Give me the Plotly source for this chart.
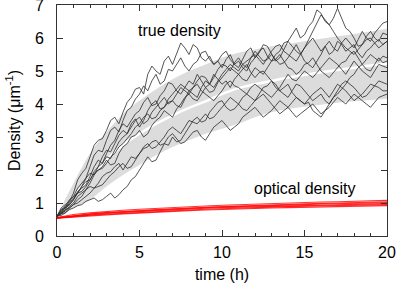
import plotly.graph_objects as go

# time axis (h)
t_band = [0, 1, 2, 3, 4, 5, 6, 7, 8, 9, 10, 11, 12, 13, 14, 15, 16, 17, 18, 19, 20]
band_mean = [0.6, 1.2, 1.75, 2.3, 2.76, 3.1, 3.4, 3.65, 3.88, 4.08, 4.3, 4.48, 4.6, 4.7, 4.8, 4.88, 4.96, 5.03, 5.1, 5.17, 5.22]
band_upper = [0.62, 1.6, 2.5, 3.15, 3.7, 4.1, 4.45, 4.75, 5.0, 5.2, 5.4, 5.55, 5.65, 5.75, 5.82, 5.9, 5.98, 6.05, 6.12, 6.2, 6.28]
band_lower = [0.58, 0.85, 1.1, 1.5, 1.85, 2.15, 2.45, 2.7, 2.9, 3.1, 3.25, 3.4, 3.6, 3.75, 3.85, 3.92, 3.98, 4.04, 4.08, 4.12, 4.16]

t_true = [i * 0.25 for i in range(81)]
true_1 = [0.6, 0.85, 0.95, 1.05, 1.3, 1.7, 1.9, 2.05, 2.4, 2.75,
          2.9, 2.95, 3.2, 3.5, 3.6, 3.4, 3.75, 4.05, 4.2, 4.45,
          4.5, 4.3, 4.9, 5.15, 5.0, 4.9, 5.3, 5.45, 5.2, 5.5,
          5.85, 5.7, 5.5, 5.8, 5.7, 5.4, 5.3, 5.45, 5.2, 5.3,
          5.5, 5.6, 5.35, 5.2, 5.1, 5.35, 5.6, 5.7, 5.4, 5.55,
          5.8, 5.75, 5.5, 5.3, 5.4, 5.65, 5.9, 5.75, 5.6, 5.5,
          5.7, 5.85, 6.0, 5.8, 5.6, 5.75, 5.5, 5.6, 5.9, 5.8,
          5.6, 5.7, 5.8, 5.55, 5.4, 5.6, 5.7, 5.85, 5.95, 5.8,
          5.9]
true_2 = [0.6, 0.7, 0.9, 1.1, 1.2, 1.45, 1.6, 1.75, 2.1, 2.45,
          2.6, 2.55, 2.9, 3.2, 3.3, 3.15, 3.5, 3.8, 3.9, 4.15,
          4.3, 4.55, 4.4, 4.7, 4.9, 4.6, 4.7, 5.05, 5.0, 5.2,
          5.4, 5.15, 5.0, 5.2, 5.3, 5.55, 5.6, 5.35, 5.2, 5.3,
          5.1, 5.35, 5.5, 5.2, 5.3, 5.1, 5.0, 5.25, 5.4, 5.6,
          5.7, 5.45, 5.3, 5.5, 5.6, 5.85, 5.9, 6.1, 6.3, 6.0,
          6.1, 6.35, 6.5, 6.85, 6.75, 6.5, 6.4, 6.6, 6.9, 6.6,
          6.3, 6.2, 6.0, 5.75, 5.8, 6.05, 6.2, 6.0, 5.9, 6.15,
          6.1]
true_3 = [0.6, 0.75, 0.85, 0.95, 1.1, 1.35, 1.45, 1.55, 1.8, 2.1,
          2.3, 2.2, 2.5, 2.75, 2.9, 3.2, 3.4, 3.3, 3.5, 3.7,
          3.8, 4.05, 4.2, 3.95, 4.0, 4.25, 4.4, 4.65, 4.6, 4.4,
          4.3, 4.5, 4.7, 4.6, 4.9, 4.7, 4.5, 4.6, 4.8, 5.05,
          5.2, 5.15, 5.0, 5.25, 5.4, 5.2, 5.1, 5.4, 5.6, 5.45,
          5.3, 5.35, 5.5, 5.35, 5.2, 5.25, 5.4, 5.6, 5.8, 5.55,
          5.3, 5.2, 5.1, 5.3, 5.5, 5.75, 5.9, 5.7, 5.6, 5.85,
          6.0, 5.85, 5.7, 5.95, 6.2, 6.0, 5.9, 6.15, 6.3, 6.45,
          6.5]
true_4 = [0.6, 0.65, 0.8, 1.0, 1.15, 1.3, 1.5, 1.75, 1.9, 1.85,
          2.1, 2.4, 2.6, 2.55, 2.8, 3.05, 3.2, 3.1, 3.4, 3.55,
          3.3, 3.5, 3.8, 4.0, 4.1, 3.85, 3.9, 4.15, 4.3, 4.45,
          4.6, 4.5, 4.4, 4.3, 4.2, 4.5, 4.7, 4.6, 4.9, 4.75,
          4.6, 4.7, 4.5, 4.75, 4.9, 5.05, 5.2, 4.95, 4.8, 4.95,
          5.0, 4.85, 4.7, 4.5, 4.4, 4.5, 4.6, 4.35, 4.2, 4.1,
          4.0, 4.05, 3.8, 3.7, 3.6, 3.8, 4.0, 4.2, 4.3, 4.45,
          4.6, 4.8, 4.9, 5.1, 5.2, 5.05, 5.0, 5.2, 5.4, 5.25,
          5.3]
true_5 = [0.6, 0.7, 0.75, 0.9, 1.0, 1.2, 1.3, 1.4, 1.6, 1.85,
          2.0, 2.1, 2.3, 2.15, 2.2, 2.5, 2.7, 2.8, 3.0, 3.05,
          3.2, 3.0, 3.1, 3.35, 3.5, 3.6, 3.8, 3.7, 3.6, 3.85,
          4.0, 4.2, 4.3, 4.15, 4.1, 4.3, 4.5, 4.35, 4.4, 4.65,
          4.8, 4.95, 5.1, 5.0, 4.9, 4.75, 4.7, 4.9, 5.1, 5.0,
          4.9, 5.1, 5.3, 5.35, 5.5, 5.3, 5.1, 5.05, 4.9, 5.0,
          5.2, 5.25, 5.4, 5.2, 5.0, 4.9, 4.8, 4.95, 5.1, 5.25,
          5.3, 5.5, 5.6, 5.4, 5.2, 5.35, 5.5, 5.4, 5.3, 5.45,
          5.4]
true_6 = [0.6, 0.68, 0.7, 0.8, 0.85, 0.92, 0.95, 1.05, 1.1, 1.15,
          1.05, 1.1, 1.2, 1.3, 1.15, 1.25, 1.4, 1.5, 1.7, 1.8,
          2.0, 2.2, 2.4, 2.25, 2.3, 2.55, 2.8, 2.75, 3.0, 2.85,
          2.9, 3.1, 3.3, 3.5, 3.6, 3.45, 3.5, 3.75, 3.9, 4.05,
          4.1, 3.9, 3.8, 3.85, 4.0, 4.2, 4.3, 4.2, 4.1, 4.3,
          4.5, 4.55, 4.7, 4.6, 4.4, 4.3, 4.2, 4.4, 4.6, 4.55,
          4.4, 4.25, 4.1, 4.2, 4.3, 4.1, 4.0, 4.2, 4.4, 4.6,
          4.7, 4.6, 4.5, 4.35, 4.2, 4.25, 4.4, 4.55, 4.7, 4.65,
          4.6]
true_7 = [0.6, 0.72, 0.8, 0.85, 0.95, 1.1, 1.2, 1.4, 1.5, 1.45,
          1.6, 1.8, 1.9, 1.95, 2.1, 2.2, 2.0, 2.2, 2.4, 2.35,
          2.5, 2.65, 2.7, 2.85, 2.9, 2.75, 2.8, 3.0, 3.1, 2.95,
          2.8, 2.85, 3.0, 3.15, 3.2, 3.0, 2.9, 3.1, 3.3, 3.4,
          3.5, 3.35, 3.2, 3.3, 3.4, 3.6, 3.7, 3.8, 3.9, 3.75,
          3.6, 3.7, 3.8, 3.95, 4.1, 4.0, 3.9, 4.05, 4.2, 4.1,
          4.0, 4.15, 4.3, 4.4, 4.5, 4.35, 4.2, 4.4, 4.6, 4.5,
          4.4, 4.25, 4.1, 4.2, 4.3, 4.45, 4.6, 4.55, 4.5, 4.4,
          4.4]
true_8 = [0.6, 0.8, 0.9, 0.95, 1.1, 1.3, 1.35, 1.5, 1.7, 1.95,
          2.1, 2.2, 2.4, 2.35, 2.6, 2.85, 3.0, 3.1, 3.3, 3.5,
          3.6, 3.4, 3.5, 3.75, 3.9, 4.05, 4.2, 4.0, 4.1, 3.95,
          3.9, 4.15, 4.4, 4.5, 4.6, 4.4, 4.3, 4.2, 4.1, 4.25,
          4.4, 4.6, 4.7, 4.55, 4.5, 4.4, 4.3, 4.5, 4.6, 4.5,
          4.4, 4.3, 4.2, 4.35, 4.5, 4.7, 4.9, 4.75, 4.7, 4.85,
          5.0, 4.9, 4.8, 4.95, 5.1, 5.25, 5.4, 5.3, 5.2, 5.05,
          4.9, 5.1, 5.3, 5.15, 5.0, 4.9, 4.8, 5.0, 5.2, 5.15,
          5.1]
true_9 = [0.6, 0.78, 0.85, 1.05, 1.2, 1.3, 1.5, 1.65, 1.7, 1.9,
          2.0, 2.05, 2.2, 2.4, 2.5, 2.7, 2.8, 2.95, 3.1, 3.3,
          3.4, 3.6, 3.7, 3.55, 3.6, 3.8, 3.9, 4.05, 4.1, 4.3,
          4.5, 4.4, 4.3, 4.5, 4.7, 4.85, 4.8, 4.6, 4.5, 4.7,
          4.9, 5.05, 5.2, 5.1, 5.0, 5.2, 5.3, 5.4, 5.5, 5.35,
          5.2, 5.4, 5.6, 5.75, 5.8, 5.6, 5.5, 5.4, 5.3, 5.5,
          5.7, 5.95, 6.2, 6.5, 6.7, 6.55, 6.4, 6.2, 6.0, 5.85,
          5.7, 5.6, 5.5, 5.65, 5.8, 5.95, 6.0, 5.85, 5.7, 5.8,
          5.9]
true_10 = [0.6, 0.62, 0.7, 0.85, 0.95, 1.0, 1.1, 1.2, 1.3, 1.45,
           1.5, 1.55, 1.7, 1.85, 1.95, 2.1, 2.2, 2.05, 2.1, 2.3,
           2.5, 2.7, 2.8, 2.65, 2.7, 2.85, 3.0, 3.2, 3.3, 3.2,
           3.1, 3.3, 3.5, 3.45, 3.4, 3.55, 3.7, 3.55, 3.6, 3.75,
           3.9, 4.05, 4.2, 4.1, 4.0, 3.85, 3.8, 3.95, 4.1, 4.2,
           4.3, 4.15, 4.0, 3.85, 3.7, 3.8, 3.9, 3.75, 3.6, 3.7,
           3.8, 3.9, 4.0, 3.85, 3.7, 3.8, 3.9, 4.05, 4.2, 4.1,
           4.0, 4.15, 4.3, 4.2, 4.1, 4.0, 3.9, 4.05, 4.2, 4.25,
           4.3]

t_opt = [0, 1, 2, 3, 4, 5, 6, 7, 8, 9, 10, 11, 12, 13, 14, 15, 16, 17, 18, 19, 20]
opt_1 = [0.56, 0.65, 0.70, 0.75, 0.78, 0.81, 0.84, 0.86, 0.89, 0.91, 0.93, 0.95, 0.97, 0.98, 1.00, 1.01, 1.03, 1.04, 1.05, 1.06, 1.08]
opt_2 = [0.55, 0.62, 0.67, 0.71, 0.75, 0.77, 0.80, 0.83, 0.85, 0.87, 0.89, 0.91, 0.93, 0.94, 0.96, 0.97, 0.99, 1.00, 1.01, 1.03, 1.04]
opt_3 = [0.55, 0.61, 0.66, 0.70, 0.73, 0.76, 0.79, 0.81, 0.84, 0.86, 0.88, 0.89, 0.91, 0.93, 0.94, 0.95, 0.97, 0.98, 0.99, 1.00, 1.01]
opt_4 = [0.55, 0.60, 0.64, 0.68, 0.71, 0.74, 0.77, 0.79, 0.82, 0.84, 0.86, 0.87, 0.89, 0.90, 0.92, 0.93, 0.94, 0.95, 0.96, 0.97, 0.98]
opt_5 = [0.54, 0.59, 0.63, 0.66, 0.69, 0.72, 0.75, 0.77, 0.79, 0.81, 0.83, 0.85, 0.86, 0.88, 0.89, 0.90, 0.91, 0.92, 0.93, 0.94, 0.95]
opt_6 = [0.54, 0.58, 0.61, 0.64, 0.67, 0.70, 0.72, 0.75, 0.77, 0.79, 0.81, 0.82, 0.84, 0.85, 0.86, 0.87, 0.88, 0.89, 0.90, 0.91, 0.92]

x_ticks = [0, 5, 10, 15, 20]
y_ticks = [0, 1, 2, 3, 4, 5, 6, 7]

true_series = [true_1, true_2, true_3, true_4, true_5, true_6, true_7, true_8, true_9, true_10]
opt_series = [opt_1, opt_2, opt_3, opt_4, opt_5, opt_6]
for s in true_series:
    assert len(s) == len(t_true), len(s)
for s in opt_series:
    assert len(s) == len(t_opt), len(s)

FONT = "Liberation Sans, Arial, sans-serif"

fig = go.Figure()
fig.add_trace(go.Scatter(x=t_band, y=band_upper, mode="lines", line=dict(width=0, color="#dcdcdc", shape="spline"),
                         hoverinfo="skip", showlegend=False))
fig.add_trace(go.Scatter(x=t_band, y=band_lower, mode="lines", line=dict(width=0, color="#dcdcdc", shape="spline"),
                         fill="tonexty", fillcolor="#dcdcdc", hoverinfo="skip", showlegend=False))
fig.add_trace(go.Scatter(x=t_band, y=band_mean, mode="lines", line=dict(width=2.5, color="white", shape="spline"),
                         showlegend=False))

for series in true_series:
    fig.add_trace(go.Scatter(x=t_true, y=series, mode="lines",
                             line=dict(width=0.8, color="#2a2a2a"), showlegend=False))

for series in opt_series:
    fig.add_trace(go.Scatter(x=t_opt, y=series, mode="lines",
                             line=dict(width=1.1, color="rgba(255,0,0,0.8)"), showlegend=False))

fig.add_annotation(x=7.4, y=6.24, text="true density", showarrow=False,
                   font=dict(size=16, color="black", family=FONT))
fig.add_annotation(x=15.0, y=1.45, text="optical density", showarrow=False,
                   font=dict(size=16, color="black", family=FONT))

axis_common = dict(showline=True, linecolor="#333333", linewidth=1, mirror="allticks",
                   ticks="inside", ticklen=6, tickcolor="#333333", showgrid=False, zeroline=False,
                   automargin=False, ticklabeloverflow="allow",
                   tickfont=dict(size=16, color="black", family=FONT))
fig.update_xaxes(range=[0, 20], tickvals=x_ticks, ticktext=[str(v) for v in x_ticks],
                 minor=dict(dtick=1, ticks="inside", ticklen=3, tickcolor="#333333"),
                 ticklabelstandoff=2,
                 title=dict(text="time (h)", font=dict(size=16, color="black", family=FONT), standoff=8),
                 **axis_common)
fig.update_yaxes(range=[0, 7], tickvals=y_ticks, ticktext=[str(v) for v in y_ticks],
                 ticklabelstandoff=9,
                 title=dict(text="Density (μm<sup>-1</sup>)", font=dict(size=16, color="black", family=FONT), standoff=10),
                 **axis_common)
fig.update_layout(width=397, height=285, margin=dict(l=57, r=10, t=5, b=49),
                  plot_bgcolor="white", paper_bgcolor="white",
                  font=dict(family=FONT, color="black"))

fig.write_html("out.html", config={"displayModeBar": False, "staticPlot": True},
               post_script="document.body.style.margin='0';document.body.style.overflow='hidden';")
